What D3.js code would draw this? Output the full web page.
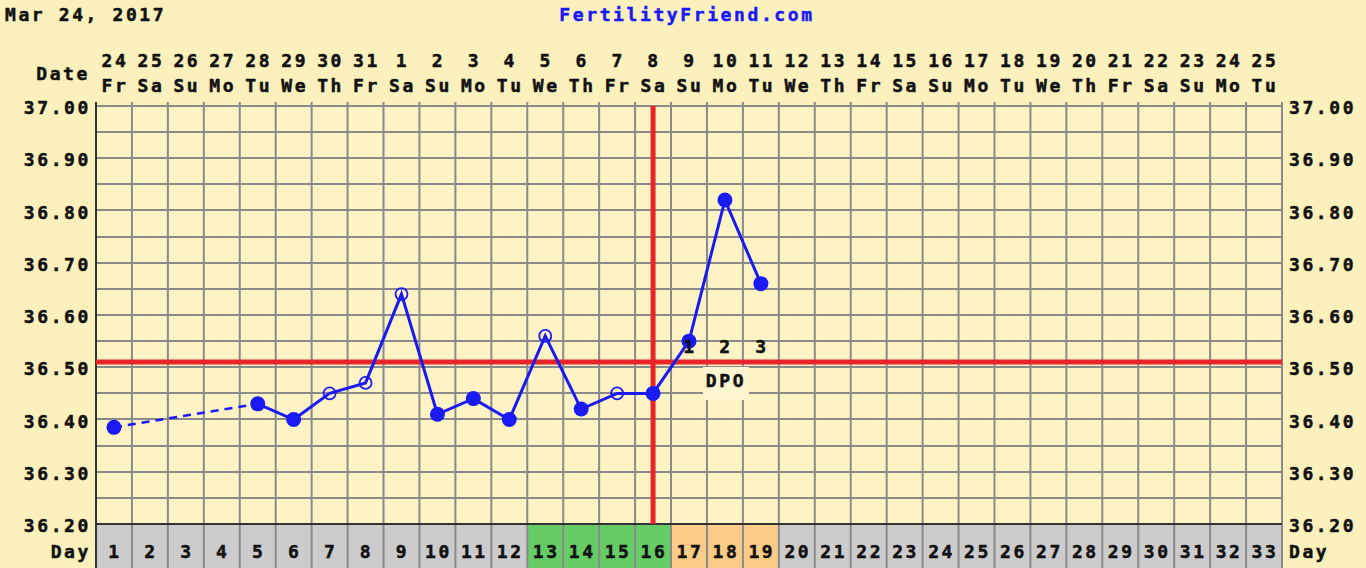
<!DOCTYPE html>
<html><head><meta charset="utf-8">
<script src="https://cdn.jsdelivr.net/npm/d3@7"></script>
<style>
html,body{margin:0;padding:0;background:#fcf1bd;}
svg{display:block;}
text{font-family:"DejaVu Sans Mono",monospace;font-weight:bold;font-size:18px;fill:#111;stroke:#111;stroke-width:0.5px;letter-spacing:2.6px;}
</style></head>
<body>
<svg id="c" width="1366" height="568"></svg>
<script>
const days = d3.range(1, 34);
const dateNums = ["24","25","26","27","28","29","30","31","1","2","3","4","5","6","7","8","9","10","11","12","13","14","15","16","17","18","19","20","21","22","23","24","25"];
const weekdays = ["Fr","Sa","Su","Mo","Tu","We","Th","Fr","Sa","Su","Mo","Tu","We","Th","Fr","Sa","Su","Mo","Tu","We","Th","Fr","Sa","Su","Mo","Tu","We","Th","Fr","Sa","Su","Mo","Tu"];
const tempDays  = [1, 5, 6, 7, 8, 9, 10, 11, 12, 13, 14, 15, 16, 17, 18, 19];
const tempVals  = [36.385, 36.43, 36.40, 36.45, 36.47, 36.64, 36.41, 36.44, 36.40, 36.56, 36.42, 36.45, 36.45, 36.55, 36.82, 36.66];
const tempOpen  = [false, false, false, true, true, true, false, false, false, true, false, true, false, false, false, false];
const yTicks = [36.20, 36.30, 36.40, 36.50, 36.60, 36.70, 36.80, 36.90, 37.00];
const coverline = 36.51;
const ovulationDay = 16;
const fertileDays = [13, 14, 15, 16];
const dpoDays = [17, 18, 19];
const dpoLabels = ["1", "2", "3"];

const svg = d3.select("#c");
const L = 96, R = 1282, T = 106, B = 524;
const x = d3.scaleBand().domain(days).range([L, R]);
const y = d3.scaleLinear().domain([36.2, 37.0]).range([B, T]);
const cx = d => x(d) + x.bandwidth() / 2;

// plot background
svg.append("rect").attr("x", L).attr("y", T).attr("width", R - L).attr("height", B - T).attr("fill", "#fdf3c4");
// day row cells
svg.selectAll("rect.day").data(days).enter().append("rect")
  .attr("x", d => x(d)).attr("y", B).attr("width", x.bandwidth()).attr("height", 568 - B)
  .attr("fill", d => fertileDays.includes(d) ? "#66cc66" : dpoDays.includes(d) ? "#ffcc88" : "#cccccc");

// horizontal grid
const hGrid = d3.range(36.20, 37.001, 0.05);
svg.selectAll("line.h").data(hGrid).enter().append("line")
  .attr("x1", L).attr("x2", R).attr("y1", d => Math.round(y(d))).attr("y2", d => Math.round(y(d)))
  .attr("stroke", "#8a8a8a").attr("stroke-width", 2);
// vertical grid
svg.selectAll("line.v").data(days.slice(1)).enter().append("line")
  .attr("x1", d => x(d)).attr("x2", d => x(d)).attr("y1", T - 4).attr("y2", 568)
  .attr("stroke", "#8a8a8a").attr("stroke-width", 2);
svg.append("line").attr("x1", R).attr("x2", R).attr("y1", T - 4).attr("y2", 568).attr("stroke", "#8a8a8a").attr("stroke-width", 2);

// DPO label box (hides grid behind label)
const dpoMid = cx(dpoDays[1]);
svg.append("rect").attr("x", dpoMid - 22).attr("y", y(coverline) + 5).attr("width", 46).attr("height", 33).attr("fill", "#fdf5d0");

// borders
svg.append("line").attr("x1", L).attr("x2", L).attr("y1", T - 4).attr("y2", 568).attr("stroke", "#333").attr("stroke-width", 2);
svg.append("line").attr("x1", L).attr("x2", R).attr("y1", B).attr("y2", B).attr("stroke", "#333").attr("stroke-width", 2);

// red lines
svg.append("line").attr("x1", L).attr("x2", R).attr("y1", y(coverline)).attr("y2", y(coverline)).attr("stroke", "#e8262a").attr("stroke-width", 5);
svg.append("line").attr("x1", cx(ovulationDay)).attr("x2", cx(ovulationDay)).attr("y1", T).attr("y2", B).attr("stroke", "#e8262a").attr("stroke-width", 5);

// temperature line
const pts = tempDays.map((d, i) => ({d, v: tempVals[i], open: tempOpen[i]}));
const line = d3.line().x(p => cx(p.d)).y(p => y(p.v));
const blue = "#1a1af5";
svg.append("path").attr("d", line([pts[0], pts[1]])).attr("fill", "none").attr("stroke", blue).attr("stroke-width", 2.5).attr("stroke-dasharray", "8,6");
svg.append("path").attr("d", line(pts.slice(1))).attr("fill", "none").attr("stroke", blue).attr("stroke-width", 3);
svg.selectAll("circle.m").data(pts).enter().append("circle")
  .attr("cx", p => cx(p.d)).attr("cy", p => y(p.v))
  .attr("r", p => p.open ? 6 : 7.5)
  .attr("fill", p => p.open ? "none" : blue)
  .attr("stroke", blue).attr("stroke-width", p => p.open ? 1.8 : 0);

// DPO labels
svg.selectAll("text.dpo").data(dpoDays).enter().append("text")
  .attr("x", d => cx(d) + 1).attr("y", y(coverline) - 9).attr("text-anchor", "middle").text((d, i) => dpoLabels[i]);
svg.append("text").attr("x", dpoMid + 1).attr("y", y(coverline) + 25).attr("text-anchor", "middle").text("DPO");

// header
svg.append("text").attr("x", 5).attr("y", 21).text("Mar 24, 2017");
svg.append("text").attr("x", 687).attr("y", 21).attr("text-anchor", "middle").style("fill", "#1a1af5").style("stroke", "#1a1af5").text("FertilityFriend.com");
svg.append("text").attr("x", 90).attr("y", 80).attr("text-anchor", "end").text("Date");

// date labels
svg.selectAll("text.dn").data(days).enter().append("text")
  .attr("x", d => cx(d) + 1).attr("y", 67).attr("text-anchor", "middle").text((d, i) => dateNums[i]);
svg.selectAll("text.wd").data(days).enter().append("text")
  .attr("x", d => cx(d) + 1).attr("y", 92).attr("text-anchor", "middle").text((d, i) => weekdays[i]);

// y labels
svg.selectAll("text.yl").data(yTicks).enter().append("text")
  .attr("x", 91).attr("y", d => y(d) + 8).attr("text-anchor", "end").text(d => d.toFixed(2));
svg.selectAll("text.yr").data(yTicks).enter().append("text")
  .attr("x", 1289).attr("y", d => y(d) + 8).text(d => d.toFixed(2));

// day row labels
svg.selectAll("text.dl").data(days).enter().append("text")
  .attr("x", d => cx(d) + 1).attr("y", 558).attr("text-anchor", "middle").text(d => d);
svg.append("text").attr("x", 91).attr("y", 558).attr("text-anchor", "end").text("Day");
svg.append("text").attr("x", 1289).attr("y", 558).text("Day");
</script>
</body></html>
